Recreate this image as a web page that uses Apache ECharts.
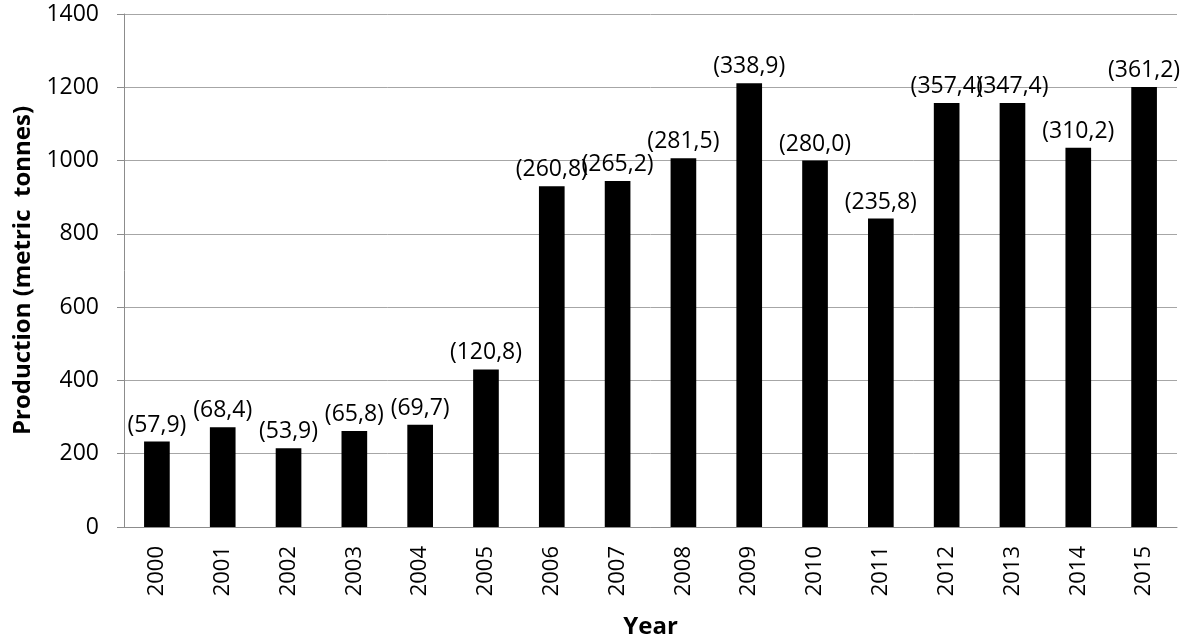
<!DOCTYPE html>
<html>
<head>
<meta charset="utf-8">
<script src="https://cdn.jsdelivr.net/npm/echarts@6/dist/echarts.min.js"></script>
<style>html,body{margin:0;padding:0;background:#fff}#c{width:1200px;height:644px}</style>
</head>
<body>
<div id="c"></div>
<script>
var years = ['2000','2001','2002','2003','2004','2005','2006','2007','2008','2009','2010','2011','2012','2013','2014','2015'];
var production = [233, 272, 215, 262, 279, 430, 930, 944, 1006, 1211, 1000, 842, 1157, 1157, 1035, 1201];
var barLabels = ['(57,9)','(68,4)','(53,9)','(65,8)','(69,7)','(120,8)','(260,8)','(265,2)','(281,5)','(338,9)','(280,0)','(235,8)','(357,4)','(347,4)','(310,2)','(361,2)'];
var yTicks = [0, 200, 400, 600, 800, 1000, 1200, 1400];

var FONT = '"Open Sans", "DejaVu Sans", sans-serif';
var chart = echarts.init(document.getElementById('c'));
chart.setOption({
  animation: false,
  backgroundColor: '#fff',
  grid: { left: 124, right: 23, top: 14, bottom: 115 },
  xAxis: {
    type: 'category',
    data: years,
    name: 'Year',
    nameLocation: 'middle',
    nameGap: 88,
    nameTextStyle: { fontFamily: FONT, fontSize: 24, fontWeight: 'bold', color: '#000', verticalAlign: 'top' },
    axisLine: { lineStyle: { color: '#8c8c8c', width: 1 } },
    axisTick: { show: false },
    axisLabel: { rotate: 90, margin: 19, fontFamily: FONT, fontSize: 22, color: '#000' }
  },
  yAxis: {
    type: 'value',
    min: yTicks[0],
    max: yTicks[yTicks.length - 1],
    interval: 200,
    name: 'Production (metric  tonnes)',
    nameLocation: 'middle',
    nameGap: 89,
    nameTextStyle: { fontFamily: FONT, fontSize: 24, fontWeight: 'bold', color: '#000' },
    axisLine: { show: true, lineStyle: { color: '#8c8c8c', width: 1 } },
    axisTick: { show: true, length: 7, lineStyle: { color: '#8c8c8c' } },
    axisLabel: { margin: 25, fontFamily: FONT, fontSize: 23, color: '#000', formatter: function (v) { return String(v); } },
    splitLine: { lineStyle: { color: '#a6a6a6', width: 1 } }
  },
  series: [{
    type: 'bar',
    data: production,
    barWidth: '39%',
    itemStyle: { color: '#000' },
    label: {
      show: true,
      position: 'top',
      distance: 5,
      fontFamily: FONT,
      fontSize: 23,
      color: '#000',
      formatter: function (p) { return barLabels[p.dataIndex]; }
    }
  }]
});
</script>
</body>
</html>
